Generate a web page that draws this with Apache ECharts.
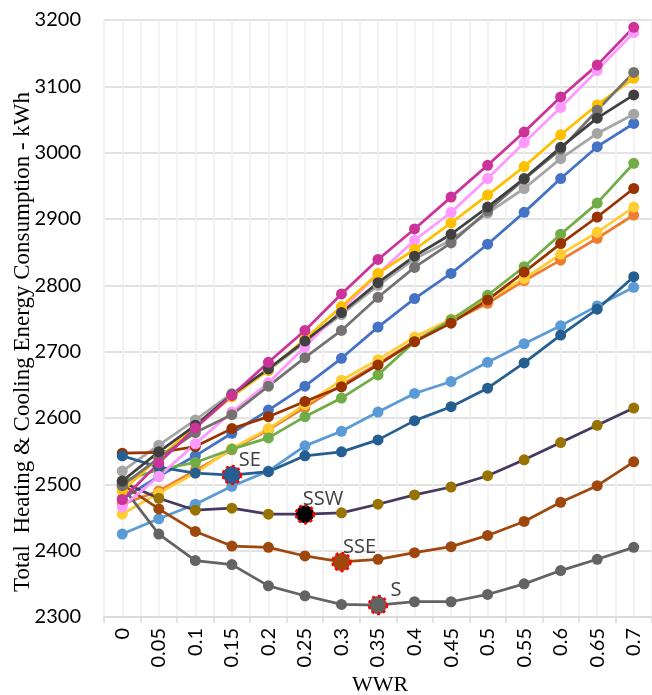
<!DOCTYPE html>
<html>
<head>
<meta charset="utf-8">
<script src="https://cdn.jsdelivr.net/npm/echarts@6/dist/echarts.min.js"></script>
<style>html,body{margin:0;padding:0;background:#fff}#c{width:652px;height:695px}</style>
</head>
<body>
<div id="c"></div>
<script>
const categories = ['0','0.05','0.1','0.15','0.2','0.25','0.3','0.35','0.4','0.45','0.5','0.55','0.6','0.65','0.7'];
const yTicks = [2300, 3200, 100];

const sBlue      = [2478, 2512, 2543, 2577, 2612, 2648, 2690, 2737, 2780, 2818, 2862, 2910, 2961, 3009, 3044];
const sLightGray = [2520, 2559, 2597, 2637, 2672, 2714, 2756, 2800, 2840, 2868, 2909, 2946, 2991, 3029, 3058];
const sOrange    = [2470, 2490, 2521, 2552, 2582, 2616, 2650, 2682, 2716, 2745, 2773, 2807, 2838, 2871, 2906];
const sYellow    = [2455, 2487, 2517, 2554, 2584, 2620, 2657, 2688, 2722, 2749, 2780, 2810, 2847, 2880, 2918];
const sGreen     = [2505, 2522, 2533, 2553, 2570, 2602, 2630, 2665, 2715, 2748, 2785, 2828, 2877, 2924, 2984];
const sBrown     = [2547, 2548, 2557, 2584, 2602, 2625, 2647, 2680, 2715, 2743, 2778, 2820, 2863, 2903, 2946];
const sSW        = [2425, 2448, 2470, 2497, 2520, 2558, 2580, 2609, 2637, 2655, 2684, 2712, 2739, 2769, 2797];
const sSE        = [2543, 2526, 2517, 2514, 2519, 2543, 2549, 2567, 2596, 2617, 2645, 2683, 2725, 2764, 2813];
const sSSW       = [2503, 2479, 2461, 2464, 2455, 2455, 2457, 2470, 2484, 2496, 2513, 2537, 2563, 2589, 2615];
const sSSE       = [2500, 2463, 2429, 2407, 2405, 2392, 2383, 2387, 2397, 2406, 2423, 2444, 2473, 2498, 2534];
const sS         = [2497, 2425, 2385, 2379, 2347, 2332, 2319, 2318, 2323, 2323, 2334, 2350, 2370, 2387, 2405];
const sPink      = [2466, 2512, 2561, 2609, 2653, 2707, 2763, 2817, 2868, 2910, 2961, 3015, 3068, 3124, 3181];
const sGold      = [2490, 2540, 2586, 2632, 2672, 2719, 2768, 2818, 2854, 2894, 2936, 2979, 3027, 3072, 3112];
const sGray      = [2498, 2540, 2578, 2605, 2648, 2691, 2732, 2782, 2827, 2864, 2912, 2960, 3005, 3064, 3121];
const sDarkGray  = [2505, 2549, 2589, 2635, 2674, 2716, 2759, 2804, 2844, 2877, 2918, 2961, 3008, 3052, 3087];
const sMagenta   = [2477, 2532, 2585, 2634, 2684, 2732, 2787, 2839, 2885, 2933, 2981, 3031, 3084, 3132, 3189];

// highlighted minima: [label, index]
const hlSE = ['SE', 3];
const hlSSW = ['SSW', 5];
const hlSSE = ['SSE', 6];
const hlS = ['S', 7];

const seriesDefs = [
  ['Blue', sBlue, '#4472C4', '#4472C4', null],
  ['LightGray', sLightGray, '#A5A5A5', '#A5A5A5', null],
  ['Orange', sOrange, '#ED7D31', '#ED7D31', null],
  ['Yellow', sYellow, '#FFCC33', '#FFCC33', null],
  ['Green', sGreen, '#70AD47', '#70AD47', null],
  ['Brown', sBrown, '#993300', '#993300', null],
  ['SW', sSW, '#5B9BD5', '#5B9BD5', null],
  ['SE', sSE, '#255E91', '#255E91', hlSE],
  ['SSW', sSSW, '#46385F', '#997300', hlSSW],
  ['SSE', sSSE, '#9E480E', '#9E480E', hlSSE],
  ['S', sS, '#636363', '#636363', hlS],
  ['Pink', sPink, '#FF99FF', '#FF99FF', null],
  ['Gold', sGold, '#FFC000', '#FFC000', null],
  ['Gray', sGray, '#767171', '#767171', null],
  ['DarkGray', sDarkGray, '#404040', '#404040', null],
  ['Magenta', sMagenta, '#CC3399', '#CC3399', null]
];

const series = seriesDefs.map(([name, vals, lineColor, markColor, hl]) => {
  const data = vals.map((v, i) => {
    if (hl && hl[1] === i) {
      return {
        value: v,
        symbolSize: 18,
        itemStyle: {
          color: name === 'SSW' ? '#000000' : markColor,
          borderColor: '#FF0000', borderWidth: 2.5, borderType: [3, 3]
        },
        label: {
          show: true, formatter: hl[0], position: 'inside', offset: [18, -15],
          color: '#404040', fontSize: 20, fontFamily: 'Open Sans'
        }
      };
    }
    return v;
  });
  return {
    name, type: 'line', data, xAxisIndex: 0, yAxisIndex: 0,
    symbol: 'circle', symbolSize: 11,
    lineStyle: { color: lineColor, width: 2.75 },
    itemStyle: { color: markColor },
    emphasis: { disabled: true },
    z: 3
  };
});

const chart = echarts.init(document.getElementById('c'), null, { renderer: 'canvas' });
chart.setOption({
  animation: false,
  backgroundColor: '#ffffff',
  grid: { left: 104, right: 0, top: 20, bottom: 78, containLabel: false },
  xAxis: [
    {
      type: 'category', data: categories, boundaryGap: true,
      axisLine: { show: true, lineStyle: { color: '#D9D9D9', width: 1.5 } },
      axisTick: { show: true, length: 6, lineStyle: { color: '#D9D9D9', width: 1.5 } },
      axisLabel: { rotate: 90, margin: 11, color: '#000', fontSize: 20, fontFamily: 'Lato' },
      splitLine: { show: false }
    },
    {
      type: 'value', min: -0.5, max: 14.5, interval: 0.5, position: 'bottom',
      axisLine: { show: false }, axisTick: { show: false }, axisLabel: { show: false },
      splitLine: { show: true, lineStyle: { color: '#EFEFEF', width: 1.5 } }
    }
  ],
  yAxis: {
    type: 'value', min: yTicks[0], max: yTicks[1], interval: yTicks[2],
    axisLine: { show: false }, axisTick: { show: false },
    axisLabel: { margin: 23, color: '#000', fontSize: 20, fontFamily: 'Lato', formatter: v => String(v) },
    splitLine: { show: true, lineStyle: { color: '#D9D9D9', width: 1.5 } }
  },
  graphic: [
    {
      type: 'text', x: 23, y: 342, rotation: Math.PI / 2,
      style: {
        text: 'Total  Heating & Cooling Energy Consumption - kWh',
        fill: '#000', font: '23px "Liberation Serif"', align: 'center', verticalAlign: 'middle'
      }
    },
    {
      type: 'text', x: 380, y: 685,
      style: { text: 'WWR', fill: '#000', font: '22px "Liberation Serif"', align: 'center', verticalAlign: 'middle' }
    }
  ],
  series
});
</script>
</body>
</html>
